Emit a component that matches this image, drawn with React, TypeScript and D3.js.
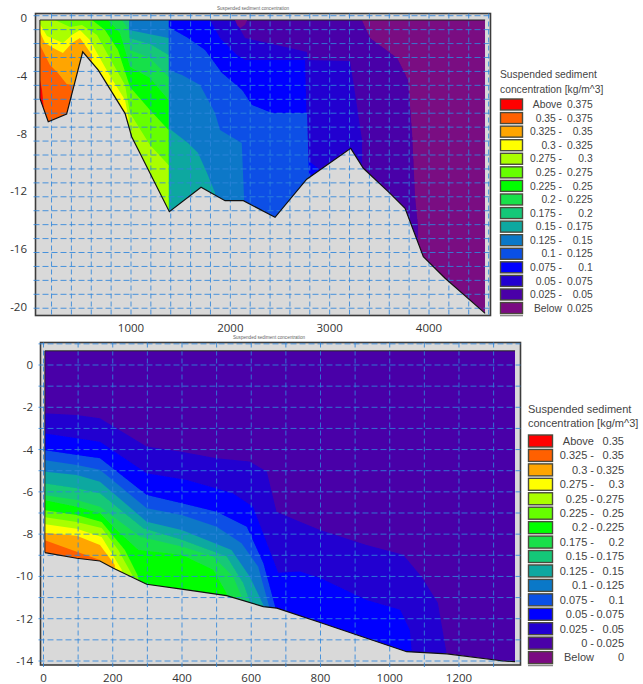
import React from 'react';
import * as d3 from 'd3';

type Pt = [number, number];

// band colours, highest concentration first
const bandColors = [
  '#ff0000', '#ff6000', '#ffa500', '#ffff00', '#aaff00', '#66ff00', '#00ff00', '#19e04a',
  '#14c878', '#0ea8a0', '#0a78c8', '#0a50e6', '#0000ff', '#2200d0', '#4a00a8', '#7a0a82',
];

// upper section (distance, depth)
const bed1: Pt[] = [
  [83, -5.55], [167, -7.17], [352, -6.64], [514, -2.32], [671, -3.59], [940, -6.59], [1007, -8.21],
  [1386, -13.41], [1705, -11.72], [1947, -12.65], [2131, -12.65], [2450, -13.8], [2769, -11.16],
  [3212, -9.02], [3339, -10.4], [3608, -12.14], [3759, -13.18], [3943, -16.53], [4162, -18.03], [4565, -20.46],
];
const l025a: Pt[] = [[3323, -0.12], [3407, -1.37], [3679, -2.75], [3789, -4.28], [3830, -7.95], [3860, -12.39], [3890, -14.47]];
const l050a: Pt[] = [[2047, -0.12], [2148, -1.37], [2601, -2.06], [2772, -2.34], [2782, -2.89], [3205, -2.96], [3266, -5.67], [3326, -8.44], [3326, -9.83]];
const l075a: Pt[] = [[1796, -0.12], [1896, -1.37], [2067, -2.55], [2148, -2.89], [2752, -2.89], [2779, -9.83], [2903, -10.52]];
const l100a: Pt[] = [[1378, -0.12], [1378, -0.6], [1574, -1.37], [1745, -2.2], [1916, -3.79], [2118, -4.97], [2218, -6.01], [2420, -6.57], [2772, -6.57], [2792, -11.0]];
const l125a: Pt[] = [[1378, -0.12], [1378, -3.59], [1514, -3.93], [1695, -4.63], [1846, -6.57], [1896, -7.75], [2115, -8.65], [2138, -12.46]];
const l150a: Pt[] = [[980, -0.12], [980, -0.81], [1378, -1.37], [1378, -7.61], [1574, -8.65], [1675, -9.34], [1765, -10.73], [1846, -12.1]];
const l175a: Pt[] = [[980, -0.12], [980, -1.37], [1191, -1.78], [1378, -2.55]];
const l200a: Pt[] = [[909, -0.12], [980, -0.81], [990, -2.2], [1191, -2.75], [1378, -4.07]];
const l225a: Pt[] = [[769, -0.12], [889, -1.02], [990, -3.38], [1191, -4.14], [1378, -5.67]];
const l250a: Pt[] = [[607, -0.12], [738, -0.81], [869, -2.2], [990, -4.76], [1191, -6.36], [1378, -7.75]];
const l275a: Pt[] = [[235, -0.12], [386, -0.6], [507, -0.46], [658, -1.16], [769, -2.55], [940, -4.63], [990, -6.57], [1191, -8.78], [1378, -10.17]];
const l300a: Pt[] = [[84, -0.4], [154, -1.23], [315, -1.71], [406, -1.16], [486, -0.81], [587, -1.5], [658, -2.41], [789, -4.0], [940, -5.67], [975, -6.91]];
const l325a: Pt[] = [[84, -0.95], [134, -1.71], [235, -2.13], [315, -2.41], [406, -1.71], [486, -1.37], [537, -1.85], [607, -2.55]];
const l350a: Pt[] = [[84, -1.85], [184, -3.24], [265, -3.79], [352, -4.56], [415, -4.63]];
const l375a: Pt[] = [[84, -4.28], [104, -4.97], [124, -6.36], [164, -7.4]];
const patchA: Pt[] = [[2047, -0.12], [2070, -0.5], [2100, -0.67], [2148, -0.45], [2170, -0.12]];

// lower section
const bed2: Pt[] = [
  [4, -8.87], [96, -9.14], [163, -9.27], [202, -9.61], [298, -10.37], [399, -10.6], [529, -10.91], [635, -11.43],
  [674, -11.5], [799, -12.18], [1049, -13.56], [1165, -13.66], [1328, -14.0], [1362, -14.03],
];
const l025b: Pt[] = [[0, -2.28], [96, -2.36], [163, -2.52], [298, -3.86], [399, -4.1], [500, -4.41], [596, -4.57], [645, -5.04], [673, -6.94], [741, -7.41], [799, -7.8], [933, -8.51], [1039, -8.98], [1092, -10.01], [1139, -11.25], [1164, -13.62]];
const l050b: Pt[] = [[0, -3.23], [163, -3.63], [298, -5.12], [414, -5.44], [547, -6.07], [605, -6.7], [645, -8.42], [678, -9.83], [741, -9.77], [799, -10.08], [933, -11.11], [1030, -11.58], [1058, -12.53], [1063, -13.47]];
const l075b: Pt[] = [[0, -4.02], [96, -4.26], [163, -4.41], [298, -6.15], [399, -6.54], [500, -6.94], [587, -7.65], [635, -9.38], [669, -11.43]];
const l100b: Pt[] = [[0, -4.49], [96, -4.73], [163, -4.96], [298, -6.77], [399, -7.09], [500, -7.65], [572, -8.43], [620, -9.54], [652, -11.43]];
const l125b: Pt[] = [[0, -5.04], [96, -5.2], [163, -5.52], [298, -7.41], [399, -7.8], [543, -8.75], [596, -10.01], [635, -11.35]];
const l150b: Pt[] = [[0, -5.59], [96, -5.83], [163, -6.07], [288, -7.72], [399, -8.27], [529, -9.06], [577, -10.32], [596, -11.19]];
const l175b: Pt[] = [[0, -6.15], [96, -6.38], [163, -6.7], [279, -8.12], [399, -8.59], [490, -9.06], [548, -10.01], [572, -10.95]];
const l200b: Pt[] = [[0, -6.38], [96, -6.7], [163, -7.01], [211, -7.8], [274, -8.75], [399, -8.98], [490, -9.69], [529, -10.79]];
const l225b: Pt[] = [[0, -6.86], [96, -7.09], [168, -7.42], [235, -8.75], [274, -10.02]];
const l250b: Pt[] = [[0, -7.19], [96, -7.42], [168, -7.71], [216, -8.75], [259, -10.01]];
const l275b: Pt[] = [[0, -7.52], [96, -7.75], [168, -8.13], [226, -9.69], [227, -10.17]];
const l300b: Pt[] = [[0, -7.94], [96, -8.08], [163, -8.51], [206, -9.46]];
const l325b: Pt[] = [[0, -8.27], [96, -8.83], [163, -9.22]];

const xTicks1 = [1000, 2000, 3000, 4000];
const yTicks1 = [0, -4, -8, -12, -16, -20];
const xTicks2 = [0, 200, 400, 600, 800, 1000, 1200];
const yTicks2 = [0, -2, -4, -6, -8, -10, -12, -14];

const legendFrom1 = ['Above', '0.35 -', '0.325 -', '0.3 -', '0.275 -', '0.25 -', '0.225 -', '0.2 -', '0.175 -', '0.15 -', '0.125 -', '0.1 -', '0.075 -', '0.05 -', '0.025 -', 'Below'];
const legendTo1 = ['0.375', '0.375', '0.35', '0.325', '0.3', '0.275', '0.25', '0.225', '0.2', '0.175', '0.15', '0.125', '0.1', '0.075', '0.05', '0.025'];
const legendFrom2 = ['Above', '0.325 -', '0.3 -', '0.275 -', '0.25 -', '0.225 -', '0.2 -', '0.175 -', '0.15 -', '0.125 -', '0.1 -', '0.075 -', '0.05 -', '0.025 -', '0 -', 'Below'];
const legendTo2 = ['0.35', '0.35', '0.325', '0.3', '0.275', '0.25', '0.225', '0.2', '0.175', '0.15', '0.125', '0.1', '0.075', '0.05', '0.025', '0'];

const legendTitle1 = ['Suspended sediment', 'concentration [kg/m^3]'];
const smallTitle = 'Suspended sediment concentration';

const gridColor = '#2f86dc';
const tickFont = '"Open Sans", sans-serif';
const legendFont = '"Liberation Sans", sans-serif';

type PanelProps = {
  id: string;
  frame: { left: number; right: number; top: number; bottom: number };
  x: d3.ScaleLinear<number, number>;
  y: d3.ScaleLinear<number, number>;
  bed: Pt[];
  surface: number;
  baseBand: number;
  bands: { pts: Pt[]; band: number }[];
  gridX: number[];
  gridY: number[];
  xTicks: number[];
  yTicks: number[];
  yLabelRight: number;
  xLabelY: number;
  titleX: number;
  titleY: number;
};

function Section(p: PanelProps) {
  const { x, y, frame } = p;
  const line = d3.line<Pt>().x((d) => x(d[0])).y((d) => y(d[1]));
  const first = p.bed[0];
  const last = p.bed[p.bed.length - 1];
  const domain: Pt[] = [[first[0], p.surface], [last[0], p.surface], ...p.bed.slice().reverse()];
  const floor = -40;
  // every contour is the edge of the area richer than it, so close it towards the left and the bottom
  const region = (pts: Pt[]): Pt[] => [...pts, [pts[pts.length - 1][0], floor], [-100, floor], [-100, pts[0][1]]];

  return (
    <g>
      <rect x={frame.left} y={frame.top} width={frame.right - frame.left} height={frame.bottom - frame.top} fill="#d9d9d9" stroke="#3c3c3c" strokeWidth={1.6} />
      <clipPath id={p.id}>
        <path d={line(domain) + 'Z'} />
      </clipPath>
      <g clipPath={`url(#${p.id})`}>
        <g filter="url(#soft)">
          <path d={line(domain) + 'Z'} fill={bandColors[p.baseBand]} />
          {p.bands.map((b, i) => (
            <path key={i} d={line(region(b.pts)) + 'Z'} fill={bandColors[b.band]} />
          ))}
        </g>
      </g>
      {p.gridX.map((v) => (
        <line key={v} x1={x(v)} x2={x(v)} y1={frame.top} y2={frame.bottom + 2} stroke={gridColor} strokeDasharray="5,3" opacity={0.85} />
      ))}
      {p.gridY.map((v) => (
        <line key={v} x1={frame.left - 2} x2={frame.right} y1={y(v)} y2={y(v)} stroke={gridColor} strokeDasharray="6,3" opacity={0.85} />
      ))}
      <path d={line(p.bed) ?? ''} fill="none" stroke="#111" strokeWidth={1.2} />
      <path d={line([[first[0], p.surface], [last[0], p.surface]]) ?? ''} fill="none" stroke="#222" strokeWidth={1} />
      <path d={line([[first[0], p.surface], first]) ?? ''} fill="none" stroke="#222" strokeWidth={1} />
      {p.yTicks.map((v) => (
        <text key={v} x={p.yLabelRight} y={y(v)} dy="0.35em" textAnchor="end" fontFamily={tickFont} fontSize={11.5} fill="#333">{v}</text>
      ))}
      {p.xTicks.map((v) => (
        <text key={v} x={x(v)} y={p.xLabelY} dy="0.35em" textAnchor="middle" fontFamily={tickFont} fontSize={11.5} fill="#333">{v}</text>
      ))}
      <text x={p.titleX} y={p.titleY} dy="0.35em" fontFamily={legendFont} fontSize={4.6} fill="#666">{smallTitle}</text>
    </g>
  );
}

type LegendProps = {
  left: number;
  titleY: number;
  titleGap: number;
  firstRow: number;
  rowStep: number;
  swatchW: number;
  swatchH: number;
  fromRight: number;
  toRight: number;
  fontSize: number;
  from: string[];
  to: string[];
};

function Legend(p: LegendProps) {
  const row = d3.scaleLinear().domain([0, 1]).range([p.firstRow, p.firstRow + p.rowStep]);
  const n = p.from.length;
  return (
    <g fontFamily={legendFont} fontSize={p.fontSize} fill="#444">
      {legendTitle1.map((t, i) => (
        <text key={t} x={p.left} y={p.titleY + i * p.titleGap} dy="0.35em">{t}</text>
      ))}
      {p.from.map((t, i) => (
        <g key={i}>
          <rect x={p.left + 0.5} y={row(i)} width={p.swatchW} height={p.swatchH} fill={bandColors[i]} stroke="#4a4a3c" strokeWidth={1.4} />
          <text x={p.fromRight} y={row(i) + p.swatchH / 2} dy="0.35em" textAnchor="end">{t}</text>
          <text x={p.toRight} y={row(i) + p.swatchH / 2} dy="0.35em" textAnchor="end">{p.to[i]}</text>
        </g>
      ))}
      <line x1={p.left} x2={p.left + p.swatchW + 1} y1={row(n) - 0.5} y2={row(n) - 0.5} stroke="#8a8a8a" strokeWidth={1.4} />
    </g>
  );
}

export default function App() {
  const x1 = d3.scaleLinear().domain([1000, 4000]).range([131, 429]);
  const y1 = d3.scaleLinear().domain([0, -20]).range([18.3, 306.7]);
  const x2 = d3.scaleLinear().domain([0, 1300]).range([43.5, 493.6]);
  const y2 = d3.scaleLinear().domain([0, -14]).range([365, 661]);

  // bands painted from poor to rich, index points into bandColors
  const bands1 = [
    { pts: l025a, band: 14 }, { pts: l050a, band: 13 }, { pts: l075a, band: 12 }, { pts: l100a, band: 11 },
    { pts: l125a, band: 10 }, { pts: l150a, band: 9 }, { pts: l175a, band: 8 }, { pts: l200a, band: 7 },
    { pts: l225a, band: 6 }, { pts: l250a, band: 5 }, { pts: l275a, band: 4 }, { pts: l300a, band: 3 },
    { pts: l325a, band: 2 }, { pts: l350a, band: 1 }, { pts: l375a, band: 0 },
  ];
  const bands2 = [
    { pts: l025b, band: 13 }, { pts: l050b, band: 12 }, { pts: l075b, band: 11 }, { pts: l100b, band: 10 },
    { pts: l125b, band: 9 }, { pts: l150b, band: 8 }, { pts: l175b, band: 7 }, { pts: l200b, band: 6 },
    { pts: l225b, band: 5 }, { pts: l250b, band: 4 }, { pts: l275b, band: 3 }, { pts: l300b, band: 2 },
    { pts: l325b, band: 1 },
  ];

  return (
    <svg width={643} height={684} style={{ position: 'absolute', left: 0, top: 0, background: '#fff' }}>
      <defs>
        <filter id="soft" x="-5%" y="-5%" width="110%" height="110%">
          <feGaussianBlur stdDeviation="0.5" />
        </filter>
      </defs>
      <Section
        id="clip-a"
        frame={{ left: 35.5, right: 490.5, top: 13.5, bottom: 315.5 }}
        x={x1}
        y={y1}
        bed={bed1}
        surface={-0.12}
        baseBand={15}
        bands={bands1}
        gridX={d3.range(200, 4601, 200)}
        gridY={d3.range(0, 22).map((k) => 0.18 - k * 0.966)}
        xTicks={xTicks1}
        yTicks={yTicks1}
        yLabelRight={27}
        xLabelY={328}
        titleX={217}
        titleY={8}
      />
      <path
        d={d3.line<Pt>().x((d) => x1(d[0])).y((d) => y1(d[1]))(patchA) + 'Z'}
        fill={bandColors[15]}
        opacity={0.8}
      />
      <Section
        id="clip-b"
        frame={{ left: 40.5, right: 520.5, top: 342.5, bottom: 665 }}
        x={x2}
        y={y2}
        bed={bed2}
        surface={0.67}
        baseBand={14}
        bands={bands2}
        gridX={d3.range(0, 1301, 100)}
        gridY={d3.range(1, -15, -1)}
        xTicks={xTicks2}
        yTicks={yTicks2}
        yLabelRight={33}
        xLabelY={678}
        titleX={233}
        titleY={337}
      />
      <Legend
        left={500}
        titleY={74}
        titleGap={15}
        firstRow={99}
        rowStep={13.57}
        swatchW={22}
        swatchH={11}
        fromRight={562}
        toRight={592.7}
        fontSize={10.3}
        from={legendFrom1}
        to={legendTo1}
      />
      <Legend
        left={528}
        titleY={409}
        titleGap={14.3}
        firstRow={435}
        rowStep={14.44}
        swatchW={24}
        swatchH={12}
        fromRight={594}
        toRight={624}
        fontSize={11}
        from={legendFrom2}
        to={legendTo2}
      />
    </svg>
  );
}
